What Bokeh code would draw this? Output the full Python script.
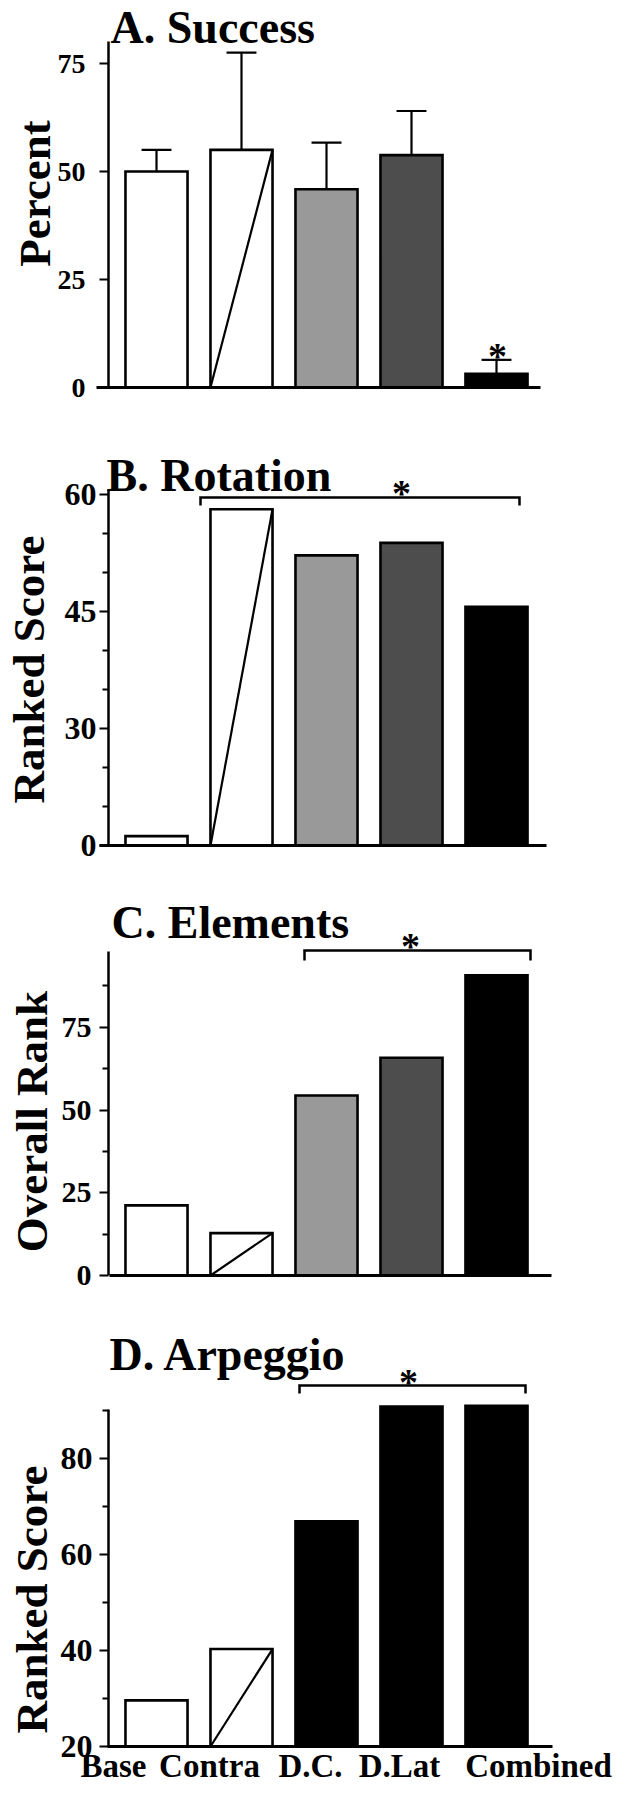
import math
from bokeh.plotting import figure
from bokeh.models import Range1d, FixedTicker, Label
from bokeh.layouts import column
from bokeh.embed import file_html
from bokeh.resources import INLINE

# ---------------- data ----------------
groups = ["Base", "Contra", "D.C.", "D.Lat", "Combined"]
xpos = [1, 2, 3, 4, 5]

success_pct = [50.0, 55.0, 45.9, 53.8, 3.2]
success_err_top = [55.0, 77.5, 56.7, 64.0, 6.4]
success_ticks = [0, 25, 50, 75]

# Rotation axis: lowest tick (drawn at 15 units) is labelled "0"
rotation_score = [16.2, 58.1, 52.2, 53.8, 45.6]
rotation_ticks = [15, 30, 45, 60]
rotation_tick_labels = ["0", "30", "45", "60"]
rotation_minor = [20, 25, 35, 40, 50, 55]

elements_rank = [21.2, 12.8, 54.4, 65.8, 90.7]
elements_ticks = [0, 25, 50, 75]
elements_minor = [12.5, 37.5, 62.5, 87.5]

arpeggio_score = [29.6, 40.3, 66.9, 90.8, 91.0]
arpeggio_ticks = [20, 40, 60, 80]
arpeggio_minor = [30, 50, 70, 90]

colors_abc = ["#ffffff", "#ffffff", "#999999", "#4d4d4d", "#000000"]
colors_d = ["#ffffff", "#ffffff", "#000000", "#000000", "#000000"]

# ---------------- layout ----------------
FONT = "Liberation Serif"
W = 620
PAGE = 8
AXIS_X_PAGE = 116          # page x of the y axis line
PX_PER_X = 85.0
X0 = 1 - (164 - PAGE) / PX_PER_X
X1 = X0 + W / PX_PER_X
BAR_W = 0.73


def make_panel(values, colors, y_base, ppu, page_top, height, bottom_page,
               y_ticks, y_minor, y_top, tick_font, tick_standoff,
               title, title_xy, ylabel, ylabel_xy, xspan, tick_labels=None):
    y_start = y_base - (page_top + height - bottom_page) / ppu
    y_end = y_base + (bottom_page - page_top) / ppu
    p = figure(width=W, height=height, title=None,
               x_range=Range1d(X0, X1), y_range=Range1d(y_start, y_end),
               output_backend="svg", toolbar_location=None,
               min_border=0, min_border_left=0, min_border_right=0,
               min_border_top=0, min_border_bottom=0)
    p.outline_line_color = None
    p.xgrid.visible = False
    p.ygrid.visible = False
    p.background_fill_color = "white"
    p.border_fill_color = "white"

    def px_x(page_x):
        return X0 + (page_x - PAGE) / PX_PER_X

    def px_y(page_y):
        return y_base + (bottom_page - page_y) / ppu

    p.vbar(x=xpos, top=values, bottom=y_base, width=BAR_W,
           fill_color=colors, line_color="black", line_width=2.6,
           line_join="miter")
    # diagonal in the Contra bar
    p.segment(x0=[xpos[1] - BAR_W / 2], y0=[y_base],
              x1=[xpos[1] + BAR_W / 2], y1=[values[1]],
              line_color="black", line_width=2.2)

    # axes (drawn at fixed positions inside the full-canvas frame)
    xa = p.xaxis[0]
    xa.fixed_location = y_base
    xa.bounds = (px_x(xspan[0]), px_x(xspan[1]))
    xa.axis_line_width = 3
    xa.ticker = FixedTicker(ticks=[])
    xa.major_tick_out = 0
    xa.major_tick_in = 0
    xa.minor_tick_out = 0
    xa.minor_tick_in = 0

    ya = p.yaxis[0]
    ya.fixed_location = px_x(AXIS_X_PAGE)
    ya.ticker = FixedTicker(ticks=y_ticks, minor_ticks=y_minor)
    ya.bounds = (y_base, y_top)
    ya.axis_line_width = 2.5
    ya.major_tick_out = 9
    ya.major_tick_in = 0
    ya.minor_tick_out = 6
    ya.minor_tick_in = 0
    ya.major_tick_line_width = 2
    ya.minor_tick_line_width = 2
    ya.major_label_text_font = FONT
    ya.major_label_text_font_style = "bold"
    ya.major_label_text_font_size = tick_font
    ya.major_label_text_color = "black"
    ya.major_label_standoff = tick_standoff
    if tick_labels is not None:
        ya.major_label_overrides = {t: s for t, s in zip(y_ticks, tick_labels)}

    p.add_layout(Label(x=px_x(title_xy[0]), y=px_y(title_xy[1]), text=title,
                       text_font=FONT, text_font_style="bold",
                       text_font_size="46px", text_align="left",
                       text_baseline="alphabetic", text_color="black"))
    p.add_layout(Label(x=px_x(ylabel_xy[0]), y=px_y(ylabel_xy[1]), text=ylabel,
                       angle=math.pi / 2, text_font=FONT,
                       text_font_style="bold", text_font_size="45px",
                       text_align="center", text_baseline="alphabetic",
                       text_color="black"))
    return p, px_x, px_y


def add_star(p, px_x, px_y, page_x, page_y_center):
    p.add_layout(Label(x=px_x(page_x), y=px_y(page_y_center + 13), text="*",
                       text_font=FONT, text_font_style="bold",
                       text_font_size="38px", text_align="center",
                       text_baseline="alphabetic", text_color="black"))


def add_bracket(p, px_x, px_y, left, right, top, leg):
    p.line(x=[px_x(left), px_x(left), px_x(right), px_x(right)],
           y=[px_y(leg), px_y(top), px_y(top), px_y(leg)],
           line_color="black", line_width=2.5, line_join="miter")


# ---- A. Success ----
pA, axA, ayA = make_panel(success_pct, colors_abc, 0, 4.32, 8, 432, 395,
                          success_ticks, [], 80, "28px", 14,
                          "A.  Success", (118, 35), "Percent", (42, 201),
                          (104, 548))
cap = 0.176
pA.segment(x0=xpos, y0=success_pct, x1=xpos, y1=success_err_top,
           line_color="black", line_width=2.2)
pA.segment(x0=[x - cap for x in xpos], y0=success_err_top,
           x1=[x + cap for x in xpos], y1=success_err_top,
           line_color="black", line_width=2.2)
add_star(pA, axA, ayA, 505, 350)

# ---- B. Rotation ----
pB, axB, ayB = make_panel(rotation_score, colors_abc, 15, 7.8, 440, 440, 853,
                          rotation_ticks, rotation_minor, 60.6, "32px", 3,
                          "B.  Rotation", (114, 483), "Ranked Score", (36, 677),
                          (107, 554), tick_labels=rotation_tick_labels)
add_bracket(pB, axB, ayB, 208, 527, 505, 513)
add_star(pB, axB, ayB, 409, 487)

# ---- C. Elements ----
pC, axC, ayC = make_panel(elements_rank, colors_abc, 0, 3.31, 880, 440, 1283,
                          elements_ticks, elements_minor, 97.9, "30px", 8,
                          "C.  Elements", (119, 930), "Overall Rank", (39, 1129),
                          (117, 559))
add_bracket(pC, axC, ayC, 312, 538, 958, 968)
add_star(pC, axC, ayC, 418, 940)

# ---- D. Arpeggio ----
pD, axD, ayD = make_panel(arpeggio_score, colors_d, 20, 4.8, 1320, 472, 1754,
                          arpeggio_ticks, arpeggio_minor, 90.3, "32px", 7,
                          "D.  Arpeggio", (117, 1362), "Ranked Score", (39, 1607),
                          (115, 560))
add_bracket(pD, axD, ayD, 307, 533, 1393, 1401)
add_star(pD, axD, ayD, 416, 1376)

# category labels under panel D (centres)
label_centres_page = [121, 217, 318, 407, 546]
label_pos = [round(axD(c), 4) for c in label_centres_page]
xd = pD.xaxis[0]
xd.ticker = FixedTicker(ticks=label_pos)
xd.major_label_overrides = {t: g for t, g in zip(label_pos, groups)}
xd.major_label_text_font = FONT
xd.major_label_text_font_style = "bold"
xd.major_label_text_font_size = "33px"
xd.major_label_text_color = "black"
xd.major_label_standoff = 1

layout = column(pA, pB, pC, pD, spacing=0)
open("out.html", "w").write(file_html(layout, INLINE))
